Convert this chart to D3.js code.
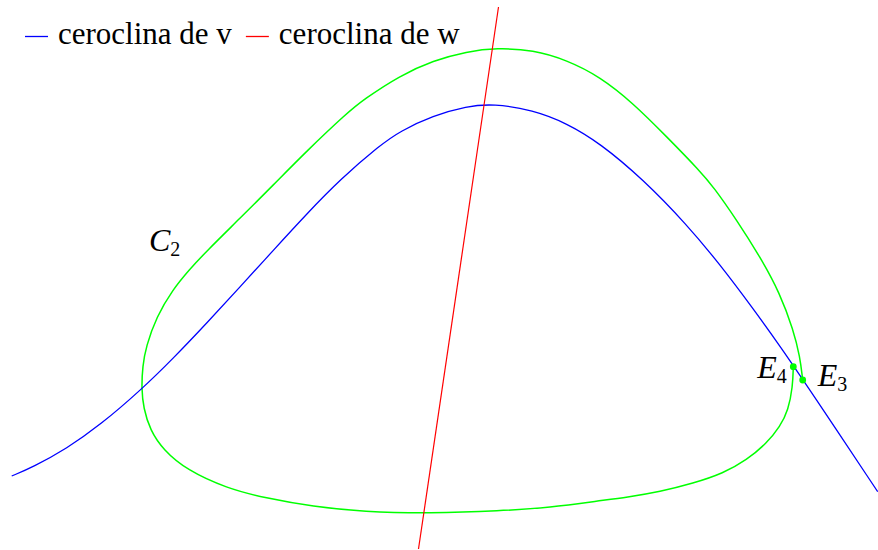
<!DOCTYPE html>
<html>
<head>
<meta charset="utf-8">
<script src="https://cdn.jsdelivr.net/npm/d3@7"></script>
<style>
  html, body { margin: 0; padding: 0; background: #fff; }
  svg { display: block; }
</style>
</head>
<body>
<svg id="chart" width="878" height="550"></svg>
<script>
// v-nullcline (cubic branch), sampled along v
const vNullV = [-2.1415, -2.0335, -1.8665, -1.70, -1.4915, -1.3335, -1.1665, -1.00, -0.8335, -0.6665, -0.50, -0.30, -0.20, -0.035, 0.1335, 0.265, 0.465, 0.6335, 0.80, 1.015, 1.2335, 1.40, 1.565, 1.70, 1.85, 2.1885];
const vNullW = [-0.13, -0.0845, 0.0075, 0.124, 0.3035, 0.4585, 0.634, 0.8155, 0.9985, 1.1805, 1.352, 1.524, 1.594, 1.6715, 1.7185, 1.7315, 1.6995, 1.634, 1.534, 1.3535, 1.1275, 0.9275, 0.7075, 0.52, 0.30, -0.2085];

// w-nullcline (straight line), two end points
const wNullV = [-0.1075, 0.2925];
const wNullW = [-0.495, 2.215];

// trajectory C2, from E4 around to E3
const orbitV = [1.7665, 1.7635, 1.7415, 1.70, 1.6335, 1.5335, 1.4165, 1.2665, 1.10, 0.9335, 0.80, 0.55, 0.30, -0.05, -0.3835, -0.6335, -0.875, -1.0665, -1.2665, -1.3835, -1.45, -1.4825, -1.4925, -1.487, -1.47, -1.4175, -1.3375, -1.255, -1.17, -1.00, -0.8335, -0.6665, -0.4665, -0.3835, -0.20, -0.0335, 0.1335, 0.2835, 0.4665, 0.6335, 0.80, 0.9665, 1.1335, 1.30, 1.3665, 1.4835, 1.60, 1.70, 1.7665, 1.80, 1.8135];
const orbitW = [0.4165, 0.3165, 0.20, 0.1165, 0.0335, -0.05, -0.1165, -0.1665, -0.2085, -0.2365, -0.2535, -0.2875, -0.305, -0.3165, -0.3085, -0.2835, -0.24, -0.1915, -0.10, 0.0, 0.10, 0.21, 0.305, 0.42, 0.5165, 0.6665, 0.80, 0.90, 0.9915, 1.1585, 1.325, 1.495, 1.6835, 1.7515, 1.8725, 1.9475, 1.9925, 2.0105, 2.00, 1.95, 1.8665, 1.7335, 1.5665, 1.395, 1.3165, 1.15, 0.9665, 0.7835, 0.60, 0.4665, 0.35];

// equilibria
const eqNames = ["E4", "E3"];
const eqV = [1.7665, 1.8135];
const eqW = [0.4165, 0.35];

// legend entries
const legendLabels = ["ceroclina de v", "ceroclina de w"];
const legendColors = ["#0000ff", "#ff0000"];

const width = 878, height = 550;
const serif = "'Liberation Serif'";
const svg = d3.select("#chart");

const x = d3.scaleLinear().domain([-2.2, 2.19]).range([0, width]);
const y = d3.scaleLinear().domain([-0.5, 2.25]).range([height, 0]);

const smooth = d3.line()
  .x(d => x(d[0]))
  .y(d => y(d[1]))
  .curve(d3.curveBasis);

const zip = (a, b) => a.map((v, i) => [v, b[i]]);

// trajectory C2
svg.append("path")
  .datum(zip(orbitV, orbitW))
  .attr("d", smooth)
  .attr("fill", "none")
  .attr("stroke", "#00ff00")
  .attr("stroke-width", 1.5);

// v-nullcline
svg.append("path")
  .datum(zip(vNullV, vNullW))
  .attr("d", smooth)
  .attr("fill", "none")
  .attr("stroke", "#0000ff")
  .attr("stroke-width", 1.3);

// w-nullcline
svg.append("path")
  .datum(zip(wNullV, wNullW))
  .attr("d", d3.line().x(d => x(d[0])).y(d => y(d[1])))
  .attr("fill", "none")
  .attr("stroke", "#ff0000")
  .attr("stroke-width", 1.2);

// equilibrium points
svg.selectAll("circle.eq")
  .data(eqNames.map((n, i) => ({ name: n, v: eqV[i], w: eqW[i] })))
  .join("circle")
  .attr("class", "eq")
  .attr("cx", d => x(d.v))
  .attr("cy", d => y(d.w))
  .attr("r", 3.4)
  .attr("fill", "#00ff00");

// italic labels with upright subscripts
function subLabel(px, py, base, sub) {
  const t = svg.append("text")
    .attr("x", px)
    .attr("y", py)
    .style("font-family", serif)
    .style("font-size", "32px")
    .style("font-style", "italic")
    .attr("fill", "#000");
  t.append("tspan").text(base);
  t.append("tspan")
    .attr("dy", 5)
    .style("font-size", "20px")
    .style("font-style", "normal")
    .text(sub);
  return t;
}

const eqLabelOffsets = { E4: [-36, 11], E3: [15, 6] };
eqNames.forEach((n, i) => {
  subLabel(x(eqV[i]) + eqLabelOffsets[n][0], y(eqW[i]) + eqLabelOffsets[n][1], n[0], n.slice(1));
});

subLabel(x(-1.455), y(0.9965), "C", "2");

// legend
const legend = svg.append("g");
let lx = 25;
legendLabels.forEach((lab, i) => {
  legend.append("line")
    .attr("x1", lx).attr("x2", lx + 23)
    .attr("y1", 36.5).attr("y2", 36.5)
    .attr("stroke", legendColors[i])
    .attr("stroke-width", 1.3);
  const t = legend.append("text")
    .attr("x", lx + 33)
    .attr("y", 43.5)
    .style("font-family", serif)
    .style("font-size", "31px")
    .attr("fill", "#000")
    .text(lab);
  lx = lx + 33 + t.node().getComputedTextLength() + 14;
});
</script>
</body>
</html>
